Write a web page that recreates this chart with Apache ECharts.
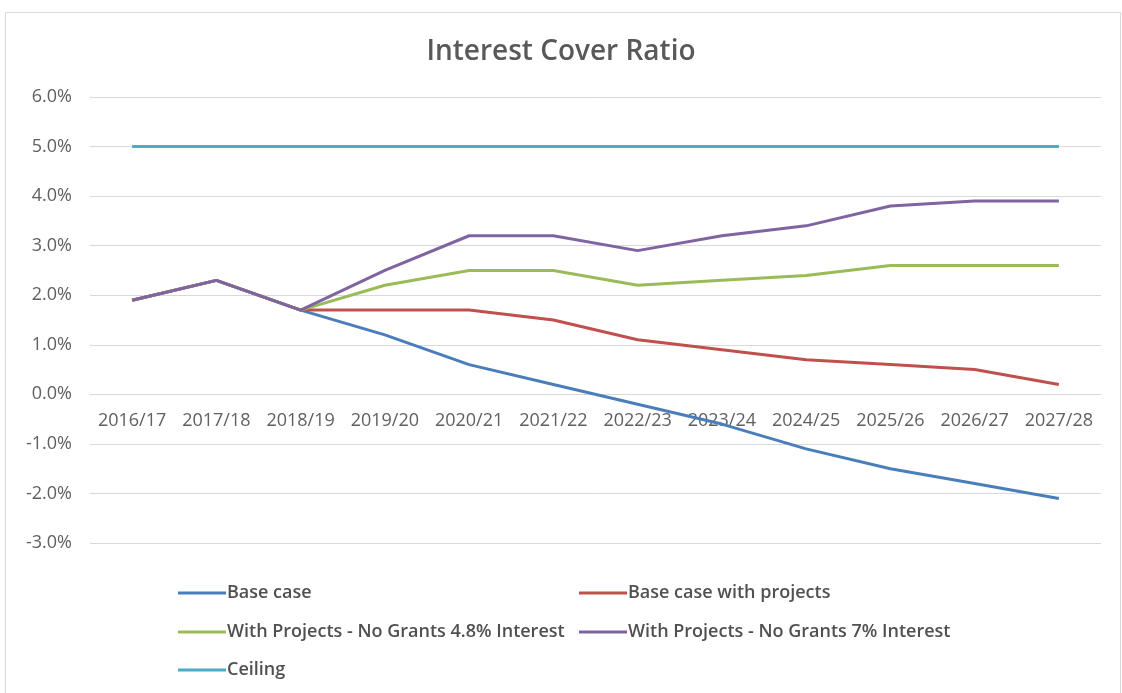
<!DOCTYPE html>
<html>
<head>
<meta charset="utf-8">
<script src="https://cdn.jsdelivr.net/npm/echarts@6/dist/echarts.min.js"></script>
<style>html,body{margin:0;padding:0;background:#fff;}#c{width:1122px;height:693px;}</style>
</head>
<body>
<div id="c"></div>
<script>
const categories = ['2016/17','2017/18','2018/19','2019/20','2020/21','2021/22','2022/23','2023/24','2024/25','2025/26','2026/27','2027/28'];
const baseCase = [1.9, 2.3, 1.7, 1.2, 0.6, 0.2, -0.2, -0.6, -1.1, -1.5, -1.8, -2.1];
const baseWithProjects = [1.9, 2.3, 1.7, 1.7, 1.7, 1.5, 1.1, 0.9, 0.7, 0.6, 0.5, 0.2];
const noGrants48 = [1.9, 2.3, 1.7, 2.2, 2.5, 2.5, 2.2, 2.3, 2.4, 2.6, 2.6, 2.6];
const noGrants7 = [1.9, 2.3, 1.7, 2.5, 3.2, 3.2, 2.9, 3.2, 3.4, 3.8, 3.9, 3.9];
const ceiling = [5.0, 5.0, 5.0, 5.0, 5.0, 5.0, 5.0, 5.0, 5.0, 5.0, 5.0, 5.0];
const yTicks = { min: -3, max: 6, interval: 1 };

const names = ['Base case','Base case with projects','With Projects - No Grants 4.8% Interest','With Projects - No Grants 7% Interest','Ceiling'];
const colors = ['#4a7ebb','#c0504d','#9bbb59','#8064a2','#4bacc6'];
const datas = [baseCase, baseWithProjects, noGrants48, noGrants7, ceiling];
const font = '"Open Sans", "Noto Sans", sans-serif';

const legendPos = [
  {left: 173, top: 579},
  {left: 574, top: 579},
  {left: 173, top: 618},
  {left: 574, top: 618},
  {left: 173, top: 656}
];

const gridTop = 97, gridBottom = 150, H = 693;
const gridHeight = H - gridTop - gridBottom;
const zeroOffset = -gridHeight * (0 - yTicks.min) / (yTicks.max - yTicks.min);

const chart = echarts.init(document.getElementById('c'), null, {renderer: 'canvas'});
chart.setOption({
  backgroundColor: '#fff',
  animation: false,
  graphic: [{
    type: 'rect', left: 3, top: 10,
    shape: {width: 1115, height: 700},
    style: {fill: 'none', stroke: '#d9d9d9', lineWidth: 1}, silent: true
  }],
  title: {
    text: 'Interest Cover Ratio', left: 'center', top: 33,
    textStyle: {fontFamily: font, fontSize: 28, fontWeight: 600, color: '#595959'}
  },
  legend: names.map((n, i) => ({
    data: [n], left: legendPos[i].left, top: legendPos[i].top,
    icon: 'rect', itemWidth: 48, itemHeight: 3, itemGap: 6,
    textStyle: {fontFamily: font, fontSize: 18, fontWeight: 600, color: '#505050', padding: [0,0,0,-4]},
    selectedMode: false
  })),
  grid: {left: 90, right: 21, top: gridTop, bottom: gridBottom, containLabel: false},
  xAxis: {
    type: 'category', data: categories, boundaryGap: true, offset: zeroOffset,
    axisLine: {show: true, onZero: false, lineStyle: {color: '#d9d9d9', width: 1}},
    axisTick: {show: false},
    axisLabel: {interval: 0, hideOverlap: false, fontFamily: font, fontSize: 18, fontWeight: 500, color: '#606060', margin: 18}
  },
  yAxis: {
    type: 'value', min: yTicks.min, max: yTicks.max, interval: yTicks.interval,
    axisLine: {show: false}, axisTick: {show: false},
    splitLine: {lineStyle: {color: '#d9d9d9', width: 1}},
    axisLabel: {fontFamily: font, fontSize: 18, fontWeight: 500, color: '#606060', margin: 18,
      formatter: v => v.toFixed(1) + '%'}
  },
  series: names.map((n, i) => ({
    name: n, type: 'line', data: datas[i], showSymbol: false, symbol: 'none',
    lineStyle: {color: colors[i], width: 3}, itemStyle: {color: colors[i]},
    z: i === 3 ? 5 : 2
  }))
});
</script>
</body>
</html>
